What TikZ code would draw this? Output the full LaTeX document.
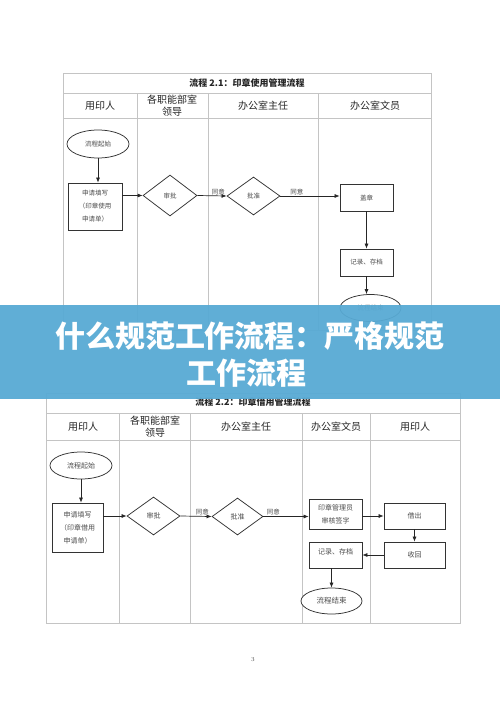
\documentclass[tikz,border=0pt]{standalone}
\usepackage{fontspec}
\newfontfamily\cjk{Noto Sans CJK SC}
\usetikzlibrary{shapes.geometric,arrows.meta}
\definecolor{bannerblue}{RGB}{88,170,212}
\definecolor{gridgray}{RGB}{196,196,196}
\begin{document}
\begin{tikzpicture}[x=1pt,y=-1pt,
  grid/.style={draw=gridgray, line width=0.9pt},
  flow/.style={draw=black!80, line width=0.75pt, fill=white, inner sep=0pt,
    font=\cjk\fontsize{6.5}{13}\selectfont, text=black!70, align=center},
  flowb/.style={flow, font=\cjk\fontsize{7}{13}\selectfont},
  box/.style={rectangle},
  oval/.style={ellipse},
  dia/.style={diamond},
  arr/.style={-{Latex[length=5pt,width=4pt]}, line width=0.7pt, draw=black!85},
  lab/.style={font=\cjk\fontsize{6.5}{8}\selectfont, text=black!70, inner sep=0.8pt},
  head/.style={font=\cjk\fontsize{10}{12}\selectfont, text=black!85, align=center},
  ttl/.style={font=\cjk\bfseries\fontsize{9}{10}\selectfont, text=black!85},
  bantxt/.style={font=\cjk\bfseries\fontsize{30}{37}\selectfont, text=white}]
\useasboundingbox (0,0) rectangle (500,707);
\fill[white] (0,0) rectangle (500,707);

% ---------- table 1 ----------
\draw[grid] (63,73) rectangle (431,330);
\draw[grid] (63,93) -- (431,93);
\draw[grid] (63,118) -- (431,118);
\foreach \x in {137,208,318} \draw[grid] (\x,93) -- (\x,330);
\node[ttl] (t1) at (247,83) {流程 2.1：印章使用管理流程};
\node[head] (h11) at (100,106) {用印人};
\node[head] (h12) at (172,106) {各职能部室\\领导};
\node[head] (h13) at (263,106) {办公室主任};
\node[head] (h14) at (375,106) {办公室文员};

\node[flow,oval,minimum width=62pt,minimum height=28pt] (s1) at (98,144) {流程起始};
\node[flow,box,minimum width=54pt,minimum height=47pt] (a1) at (95,206.5) {申请填写\\（印章使用\\申请单）};
\node[flow,dia,minimum width=54pt,minimum height=41pt] (d1) at (170,195.5) {审批};
\node[flow,dia,minimum width=53pt,minimum height=38pt] (d2) at (253.5,196) {批准};
\node[flow,box,minimum width=53pt,minimum height=27pt] (g1) at (366.5,197.5) {盖章};
\node[flow,box,minimum width=53pt,minimum height=27pt] (r1) at (366.5,262.5) {记录、存档};
\node[flow,oval,minimum width=61pt,minimum height=27pt] (e1) at (370.5,308) {流程结束};

\draw[arr] (s1.south) -- (s1.south |- a1.north);
\draw[arr] (a1.east |- d1.west) -- (d1.west);
\draw[arr] (d1.east) -- node[lab,above,pos=0.72] (l1) {同意} (d2.west);
\draw[arr] (d2.east) -- node[lab,above,pos=0.28] (l2) {同意} (d2.east -| g1.west);
\draw[arr] (g1.south) -- (r1.north);
\draw[arr] (r1.south) -- (r1.south |- e1.north);

% ---------- table 2 ----------
\draw[grid] (46,393) rectangle (460,623);
\draw[grid] (46,413) -- (460,413);
\draw[grid] (46,440) -- (460,440);
\foreach \x in {119,190,302,370} \draw[grid] (\x,413) -- (\x,623);
\node[ttl] (t2) at (253,402) {流程 2.2：印章借用管理流程};
\node[head] (h21) at (83,427) {用印人};
\node[head] (h22) at (155,427) {各职能部室\\领导};
\node[head] (h23) at (246,427) {办公室主任};
\node[head] (h24) at (336,427) {办公室文员};
\node[head] (h25) at (415,427) {用印人};

\node[flowb,oval,minimum width=62pt,minimum height=27pt] (s2) at (81,465.5) {流程起始};
\node[flowb,box,minimum width=51pt,minimum height=49pt] (a2) at (77.5,527.5) {申请填写\\（印章借用\\申请单）};
\node[flowb,dia,minimum width=53pt,minimum height=38pt] (d3) at (153.5,516) {审批};
\node[flowb,dia,minimum width=51pt,minimum height=37pt] (d4) at (237.5,516.5) {批准};
\node[flowb,box,minimum width=53pt,minimum height=30pt] (m1) at (335.5,514) {印章管理员\\审核签字};
\node[flowb,box,minimum width=61pt,minimum height=26pt] (b1) at (414.5,516) {借出};
\node[flowb,box,minimum width=61pt,minimum height=26pt] (k1) at (414.5,555) {收回};
\node[flowb,box,minimum width=53pt,minimum height=26pt,text depth=7pt] (r2) at (335.5,555) {记录、存档};
\node[flowb,oval,minimum width=61pt,minimum height=26pt,font=\cjk\fontsize{7.5}{9}\selectfont] (e2) at (331.5,601) {流程结束};

\draw[arr] (s2.south) -- (s2.south |- a2.north);
\draw[arr] (a2.east |- d3.west) -- (d3.west);
\draw[arr] (d3.east) -- node[lab,above,pos=0.7] (l3) {同意} (d4.west);
\draw[arr] (d4.east) -- node[lab,above,pos=0.22] (l4) {同意} (d4.east -| m1.west);
\draw[arr] (m1.east |- b1.west) -- (b1.west);
\draw[arr] (b1.south) -- (k1.north);
\draw[arr] (k1.west) -- (r2.east);
\draw[arr] (r2.south -| e2.north) -- (e2.north);

\node[font=\fontsize{6}{7}\selectfont, text=black!70] (pg) at (253,660) {3};

% ---------- banner ----------
\fill[bannerblue, opacity=0.95] (0,305) rectangle (500,399);
\node[bantxt] (bt1) at (250,336) {什么规范工作流程：严格规范};
\node[bantxt] (bt2) at (246,373) {工作流程};
\end{tikzpicture}
\end{document}
